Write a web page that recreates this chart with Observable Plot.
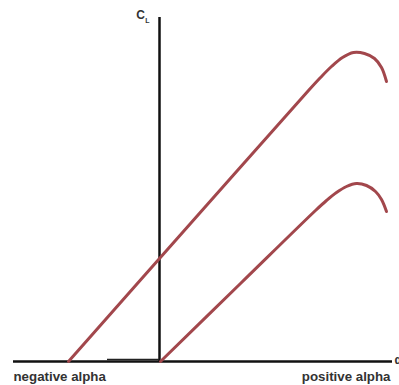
<!DOCTYPE html>
<html>
<head>
<meta charset="utf-8">
<script src="https://cdn.jsdelivr.net/npm/d3@7"></script>
<script src="https://cdn.jsdelivr.net/npm/@observablehq/plot@0.6"></script>
<style>
  html, body { margin: 0; padding: 0; background: #fff; }
  #chart svg { display: block; }
</style>
</head>
<body>
<div id="chart"></div>
<script>
// Lift coefficient vs angle of attack: a basic section and one with a higher
// zero-lift angle (shifted curve), both reaching a stall peak.
const alphaBasic = [-91, 31, 149, 161, 172, 183, 194, 205, 215, 222, 227];
const clBasic    = [0, 138, 271, 284, 295, 304, 309, 308, 303, 294, 280];

const alphaShifted = [1, 81, 156, 167, 177, 187, 197, 207, 216, 222, 227];
const clShifted    = [0, 78, 151, 161, 169, 175, 178, 176, 170, 162, 150];

const axisLabels = ["negative alpha", "positive alpha"];
const yAxisLabel = "C";
const yAxisSub = "L";

const xMin = -146, xMax = 233, yMax = 344;

const basic = alphaBasic.map((a, i) => ({alpha: a, cl: clBasic[i]}));
const shifted = alphaShifted.map((a, i) => ({alpha: a, cl: clShifted[i]}));

const curveColor = "#a2474c";
const font = "'Liberation Sans', Arial, sans-serif";

const chart = Plot.plot({
  width: 399,
  height: 385,
  margin: 0,
  style: {background: "#fff", fontFamily: font},
  x: {type: "linear", domain: [xMin, xMax], range: [13, 392], axis: null},
  y: {type: "linear", domain: [0, yMax], range: [361, 17], axis: null},
  marks: [
    // axes
    Plot.ruleX([0], {y1: 0, y2: yMax, stroke: "#111", strokeWidth: 2.5}),
    Plot.ruleY([0], {x1: xMin, x2: xMax, stroke: "#111", strokeWidth: 2.5}),
    Plot.ruleY([2], {x1: -52, x2: 0, stroke: "#222", strokeWidth: 1.5}),
    // lift curves
    Plot.line(basic, {x: "alpha", y: "cl", stroke: curveColor, strokeWidth: 3, curve: "catmull-rom"}),
    Plot.line(shifted, {x: "alpha", y: "cl", stroke: curveColor, strokeWidth: 3, curve: "catmull-rom"}),
    // labels
    Plot.text([axisLabels[0]], {x: xMin, y: -15, text: d => d, textAnchor: "start", fontSize: 13.3, fontWeight: "bold", fill: "#333"}),
    Plot.text([axisLabels[1]], {x: 231, y: -15, text: d => d, textAnchor: "end", fontSize: 13.3, fontWeight: "bold", fill: "#333"}),
    Plot.text(["α"], {x: 235, y: 1, text: d => d, textAnchor: "start", fontSize: 12, fontWeight: "bold", fill: "#333"}),
    Plot.text([yAxisLabel], {x: -19, y: 346, text: d => d, fontSize: 12, fontWeight: "bold", fill: "#333"}),
    Plot.text([yAxisSub], {x: -12, y: 341, text: d => d, fontSize: 7, fontWeight: "bold", fill: "#333"})
  ]
});

document.getElementById("chart").appendChild(chart);
</script>
</body>
</html>
